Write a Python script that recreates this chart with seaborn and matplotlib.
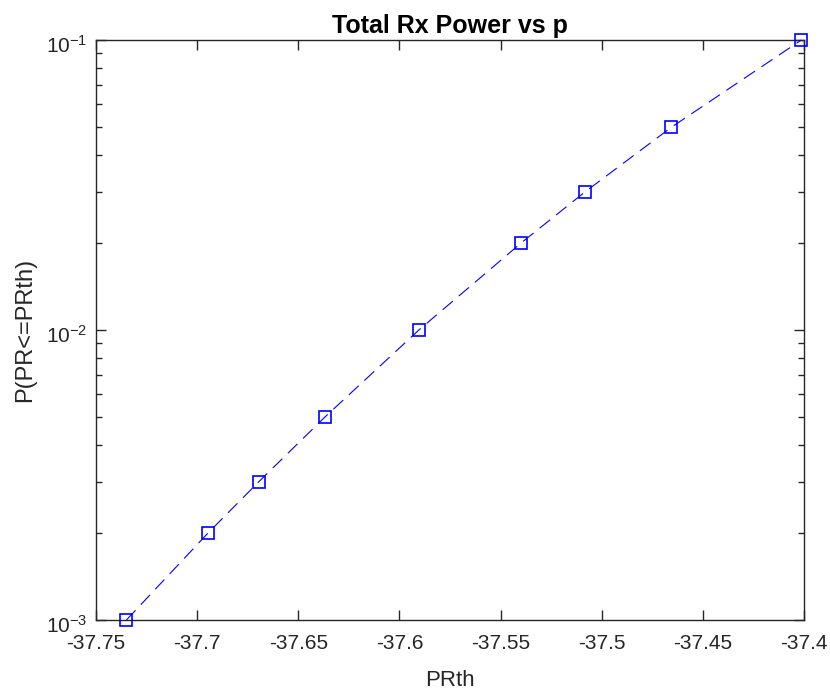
import numpy as np
import pandas as pd
import matplotlib
matplotlib.use("Agg")
import matplotlib.pyplot as plt
import matplotlib.transforms as mtransforms
import seaborn as sns
from matplotlib.ticker import LogLocator, NullFormatter

# values
prth = [-37.735, -37.6945, -37.6695, -37.637, -37.5904, -37.5397, -37.5081, -37.4656, -37.4013]
prob = [1e-3, 2e-3, 3e-3, 5e-3, 1e-2, 2e-2, 3e-2, 5e-2, 1e-1]
xticks = [-37.75, -37.7, -37.65, -37.6, -37.55, -37.5, -37.45, -37.4]
xticklabels = ["-37.75", "-37.7", "-37.65", "-37.6", "-37.55", "-37.5", "-37.45", "-37.4"]

df = pd.DataFrame({"PRth": prth, "P": prob})

sns.set_style("ticks")
plt.rcParams["font.family"] = ["Liberation Sans", "DejaVu Sans"]
plt.rcParams["mathtext.fontset"] = "custom"
plt.rcParams["mathtext.rm"] = "Liberation Sans"
plt.rcParams["mathtext.it"] = "Liberation Sans:italic"
plt.rcParams["mathtext.bf"] = "Liberation Sans:bold"
plt.rcParams["axes.unicode_minus"] = False
dark = (0.15, 0.15, 0.15)

fig = plt.figure(figsize=(8.3, 6.93), dpi=100)
ax = fig.add_axes([0.1157, 0.1053, 0.8530, 0.8370])

sns.lineplot(data=df, x="PRth", y="P", ax=ax, color="blue", linestyle=(0, (12, 7)),
             linewidth=0.8, marker="s", markersize=8, markerfacecolor="none",
             markeredgecolor="blue", markeredgewidth=1.2, clip_on=False, zorder=5)

ax.set_yscale("log")
ax.set_xlim(-37.75, -37.4)
ax.set_ylim(1e-3, 1e-1)
ax.set_xticks(xticks)
ax.set_xticklabels(xticklabels)
ax.yaxis.set_minor_locator(LogLocator(base=10, subs=np.arange(2, 10), numticks=20))
ax.yaxis.set_minor_formatter(NullFormatter())

ax.tick_params(which="both", direction="in", top=True, right=True, colors=dark,
               labelsize=15, width=1.0)
ax.tick_params(which="major", length=7)
ax.tick_params(which="minor", length=4)
ax.tick_params(axis="x", which="major", pad=10)
ax.tick_params(axis="y", which="major", pad=6.5)
for s in ax.spines.values():
    s.set_color(dark)
    s.set_linewidth(1.0)

# MATLAB puts the "10" a bit below the tick, exponent at the tick
shift = mtransforms.ScaledTranslation(0, -3 / 72, fig.dpi_scale_trans)
for lab in ax.get_yticklabels():
    lab.set_transform(lab.get_transform() + shift)

ax.set_xlabel("PRth", fontsize=16, color=dark, labelpad=12)
ax.set_ylabel("P(PR<=PRth)", fontsize=17, color=dark, labelpad=7)
ax.set_title("Total Rx Power vs p", fontsize=18, fontweight="bold", pad=5, color="black")

fig.savefig("out.png", dpi=100)
